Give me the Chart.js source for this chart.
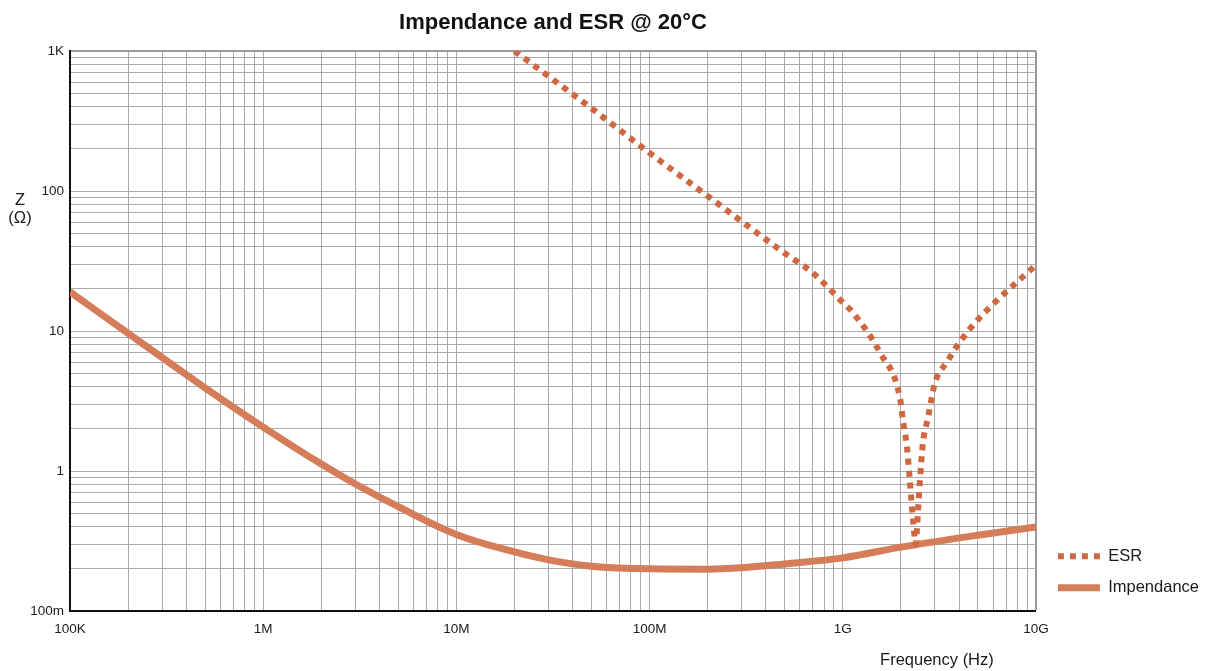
<!DOCTYPE html>
<html>
<head>
<meta charset="utf-8">
<script src="https://cdn.jsdelivr.net/npm/chart.js@4/dist/chart.umd.min.js"></script>
<style>
html,body{margin:0;padding:0;background:#fff;}
#wrap{width:1212px;height:671px;}
</style>
</head>
<body>
<div id="wrap"><canvas id="c" width="1212" height="671"></canvas></div>
<script>
// ---- data ----
const esrFreq = [2e7, 5e7, 1e8, 2e8, 5e8, 7e8, 1e9, 1.13e9, 1.56e9, 1.98e9, 2.05e9, 2.15e9, 2.23e9, 2.31e9, 2.39e9,
                 2.42e9, 2.51e9, 2.6e9, 2.76e9, 3.0e9, 3.46e9, 4.04e9, 4.83e9, 5.92e9, 1e10];
const esrOhm  = [1000, 390, 187, 92, 36, 26, 16, 13.5, 7.0, 3.3, 2.3, 1.48, 0.82, 0.45, 0.30,
                 0.38, 0.86, 1.58, 2.39, 4.25, 6.0, 8.35, 11.4, 15.3, 29.6];
const impFreq = [1e5, 2e5, 5e5, 1e6, 2e6, 3e6, 5e6, 1e7, 2e7, 3e7, 5e7, 1e8, 2e8, 3e8, 5e8, 1e9, 2e9, 5e9, 1e10];
const impOhm  = [19.0, 9.63, 3.93, 2.06, 1.12, 0.807, 0.556, 0.352, 0.264, 0.232, 0.209, 0.200, 0.199, 0.2036, 0.217, 0.2395, 0.286, 0.348, 0.398];

const seriesNames = ['ESR', 'Impendance'];
const xTickValues = [1e5, 1e6, 1e7, 1e8, 1e9, 1e10];
const xTickLabels = ['100K', '1M', '10M', '100M', '1G', '10G'];
const yTickValues = [0.1, 1, 10, 100, 1000];
const yTickLabels = ['100m', '1', '10', '100', '1K'];
const chartTitle = 'Impendance and ESR @ 20°C';
const xTitle = 'Frequency (Hz)';
const yTitleLines = ['Z', '(Ω)'];

const FONT = '"Liberation Sans", Arial, Helvetica, sans-serif';
const ESR_COLOR = '#cf6740';
const IMP_COLOR = '#d57c58';

function toPoints(xs, ys) { return xs.map((x, i) => ({x: x, y: ys[i]})); }

function allTicks(majors) {
  const out = [];
  for (let i = 0; i < majors.length - 1; i++) {
    for (let m = 1; m <= 9; m++) out.push(Number((m * majors[i]).toPrecision(12)));
  }
  out.push(majors[majors.length - 1]);
  return out;
}
function labelFor(v, majors, labels) {
  for (let i = 0; i < majors.length; i++) {
    if (Math.abs(v / majors[i] - 1) < 1e-9) return labels[i];
  }
  return '';
}

const axisTitles = {
  id: 'axisTitles',
  afterLayout(chart) {
    if (chart.legend) { chart.legend.left += 7; chart.legend.right += 7; }
  },
  afterDraw(chart) {
    const {ctx, chartArea: a} = chart;
    ctx.save();
    ctx.fillStyle = '#1a1a1a';
    ctx.font = '16.5px ' + FONT;
    ctx.textAlign = 'center';
    ctx.textBaseline = 'middle';
    ctx.fillText(xTitle, a.right - 99, a.bottom + 49);
    ctx.fillText(yTitleLines[0], a.left - 50, a.top + 149);
    ctx.fillText(yTitleLines[1], a.left - 50, a.top + 167);
    ctx.restore();
  }
};

const gridColor = (ctx) => ctx.tick && ctx.index === ctx.scale.ticks.length - 1 ? '#9a9a9a' : '#ababab';
const gridWidth = (ctx) => ctx.tick && ctx.index === ctx.scale.ticks.length - 1 ? 2 : 1;

new Chart(document.getElementById('c'), {
  type: 'scatter',
  data: {
    datasets: [
      {
        label: seriesNames[0],
        data: toPoints(esrFreq, esrOhm),
        showLine: true,
        borderColor: ESR_COLOR,
        backgroundColor: ESR_COLOR,
        borderWidth: 6,
        borderDash: [6, 6],
        borderCapStyle: 'butt',
        pointRadius: 0,
        cubicInterpolationMode: 'monotone'
      },
      {
        label: seriesNames[1],
        data: toPoints(impFreq, impOhm),
        showLine: true,
        borderColor: IMP_COLOR,
        backgroundColor: IMP_COLOR,
        borderWidth: 7,
        borderCapStyle: 'butt',
        pointRadius: 0,
        cubicInterpolationMode: 'monotone'
      }
    ]
  },
  options: {
    responsive: false,
    animation: false,
    devicePixelRatio: 1,
    layout: {padding: {left: 0, right: 10, top: 0, bottom: 0}},
    plugins: {
      title: {
        display: true,
        text: chartTitle,
        fullSize: false,
        color: '#111',
        font: {family: FONT, size: 22, weight: 'bold', lineHeight: 1.2},
        padding: {top: 10, bottom: 14.6}
      },
      legend: {
        display: true,
        position: 'right',
        align: 'end',
        fullSize: false,
        labels: {
          usePointStyle: true,
          pointStyle: 'line',
          pointStyleWidth: 42,
          padding: 15,
          color: '#1a1a1a',
          font: {family: FONT, size: 16.5},
          generateLabels(chart) {
            return chart.data.datasets.map((ds, i) => ({
              text: ds.label,
              datasetIndex: i,
              fillStyle: ds.borderColor,
              strokeStyle: ds.borderColor,
              lineWidth: ds.borderWidth,
              lineDash: ds.borderDash || [],
              lineCap: 'butt',
              pointStyle: 'line',
              hidden: false,
              fontColor: '#1a1a1a'
            }));
          }
        }
      },
      tooltip: {enabled: false}
    },
    scales: {
      x: {
        type: 'logarithmic',
        position: 'bottom',
        min: xTickValues[0],
        max: xTickValues[xTickValues.length - 1],
        afterBuildTicks(scale) { scale.ticks = allTicks(xTickValues).map(v => ({value: v})); },
        afterFit(scale) { scale.height = 60; },
        grid: {color: gridColor, lineWidth: gridWidth, drawTicks: false},
        border: {display: true, color: '#111', width: 2},
        ticks: {
          autoSkip: false, maxRotation: 0, padding: 10, color: '#1a1a1a',
          font: {family: FONT, size: 13.5},
          callback: (v) => labelFor(v, xTickValues, xTickLabels)
        }
      },
      y: {
        type: 'logarithmic',
        position: 'left',
        min: yTickValues[0],
        max: yTickValues[yTickValues.length - 1],
        afterBuildTicks(scale) { scale.ticks = allTicks(yTickValues).map(v => ({value: v})); },
        afterFit(scale) { scale.width = 70; },
        grid: {color: gridColor, lineWidth: gridWidth, drawTicks: false},
        border: {display: true, color: '#111', width: 2},
        ticks: {
          autoSkip: false, padding: 6, color: '#1a1a1a',
          font: {family: FONT, size: 13.5},
          callback: (v) => labelFor(v, yTickValues, yTickLabels)
        }
      }
    }
  },
  plugins: [axisTitles]
});
</script>
</body>
</html>
